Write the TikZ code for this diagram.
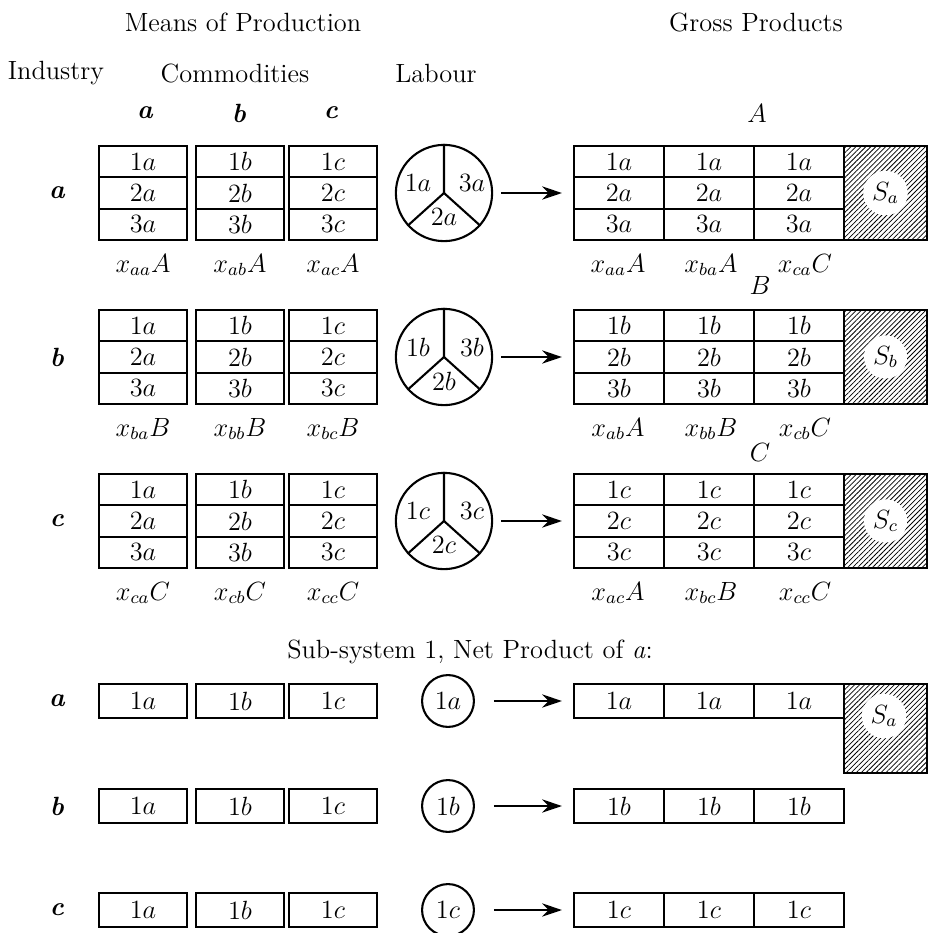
\documentclass[tikz,border=0pt]{standalone}
\usetikzlibrary{arrows.meta, calc, patterns.meta}
\tikzset{
  hd/.style={font=\large, inner sep=0pt},
  ind/.style={font=\large\bfseries\itshape, inner sep=0pt},
  xl/.style={font=\large, inner sep=0pt},
  cell/.style={draw, line width=0.95pt, minimum width=14.1mm, minimum height=5mm,
               inner sep=0pt, font=\large},
  gcell/.style={cell, minimum width=14.4mm},
  lab/.style={circle, draw, line width=0.95pt, minimum size=15.4mm, inner sep=0pt},
  labsm/.style={circle, draw, line width=0.95pt, minimum size=8.3mm, inner sep=0pt, font=\large},
  lpart/.style={font=\large, inner sep=0pt},
  surplus/.style={draw, line width=0.95pt, inner sep=0pt, minimum width=13.3mm, minimum height=15mm,
                  pattern={Lines[angle=45, distance=1.6pt, line width=0.35pt]}},
  sdisc/.style={circle, fill=white, inner sep=1.6pt, font=\large},
  arr/.style={-{Stealth[length=9pt, width=6pt]}, line width=1pt, shorten <=3.6pt, shorten >=5pt},
}

\begin{document}
\begin{tikzpicture}[x=0.16mm, y=-0.16mm]
  \useasboundingbox (0,0) rectangle (928,933);

  % headings
  \node[hd] (hmeans) at (243,22) {Means of Production};
  \node[hd] (hgross) at (756,22) {Gross Products};
  \node[hd] (hind) at (56,73) {Industry};
  \node[hd] (hcom) at (235,73) {Commodities};
  \node[hd] (hlab) at (436,73) {Labour};

  \foreach \cl/\cx in {a/145,b/239,c/331}
    \node[ind] (col-\cl) at (\cx,113) {\cl};

  \node[xl] (cap-a) at (757,113) {$A$};
  \node[xl] (cap-b) at (760,285) {$B$};
  \node[xl] (cap-c) at (760,452) {$C$};

  % the three industries
  \foreach \rw/\ry/\RW in {a/193/A, b/357/B, c/521/C} {
    \node[ind] (ind-\rw) at (57,\ry) {\rw};
    \foreach \cl/\cx in {a/143,b/240,c/333} {
      \foreach \kk in {1,2,3}
        \node[cell] (m-\rw\cl\kk) at (\cx,{\ry+(\kk-2)*31.3}) {$\kk\cl$};
      \node[xl] (xm-\rw\cl) at (\cx,\ry+72) {$x_{\rw\cl}\RW$};
    }
    \node[lab] (l-\rw) at (444,\ry) {};
    \draw[line width=0.95pt] (l-\rw.center) -- (l-\rw.north)
      (l-\rw.center) -- (l-\rw.222) (l-\rw.center) -- (l-\rw.318);
    \node[lpart] (l-\rw1) at ($(l-\rw)+(-26,-10)$) {$1\rw$};
    \node[lpart] (l-\rw3) at ($(l-\rw)+(28,-10)$) {$3\rw$};
    \node[lpart] (l-\rw2) at ($(l-\rw)+(0,24)$) {$2\rw$};
    \foreach \jj/\gx in {1/619,2/709,3/799}
      \foreach \kk in {1,2,3}
        \node[gcell] (g-\rw\jj\kk) at (\gx,{\ry+(\kk-2)*31.3}) {$\kk\rw$};
    \node[surplus] (sur-\rw) at (885.5,\ry) {};
    \node[sdisc] (st-\rw) at (sur-\rw) {$S_\rw$};
    \draw[arr] (l-\rw) -- (g-\rw12);
  }

  \node[xl] (xg-a1) at (618,265) {$x_{aa}A$};
  \node[xl] (xg-a2) at (711,265) {$x_{ba}A$};
  \node[xl] (xg-a3) at (805,265) {$x_{ca}C$};
  \node[xl] (xg-b1) at (618,429) {$x_{ab}A$};
  \node[xl] (xg-b2) at (711,429) {$x_{bb}B$};
  \node[xl] (xg-b3) at (805,429) {$x_{cb}C$};
  \node[xl] (xg-c1) at (618,593) {$x_{ac}A$};
  \node[xl] (xg-c2) at (711,593) {$x_{bc}B$};
  \node[xl] (xg-c3) at (805,593) {$x_{cc}C$};

  % sub-system 1
  \node[hd] (hsub) at (470,652) {Sub-system 1, Net Product of \textit{a}:};
  \foreach \rw/\ry in {a/701, b/806, c/910} {
    \node[ind] (sind-\rw) at (57,\ry) {\rw};
    \foreach \cl/\cx in {a/143,b/240,c/333}
      \node[cell, minimum height=5.3mm] (sm-\rw\cl) at (\cx,\ry) {$1\cl$};
    \node[labsm] (sl-\rw) at (448,\ry) {$1\rw$};
    \foreach \jj/\gx in {1/619,2/709,3/799}
      \node[gcell, minimum height=5.3mm] (sg-\rw\jj) at (\gx,\ry) {$1\rw$};
    \draw[arr, shorten <=8.6pt] (sl-\rw) -- (sg-\rw1);
  }
  \node[surplus, minimum height=14.1mm] (ssur) at (885.5,728.5) {};
  \node[sdisc] (sst) at (884,716) {$S_a$};

\end{tikzpicture}
\end{document}
